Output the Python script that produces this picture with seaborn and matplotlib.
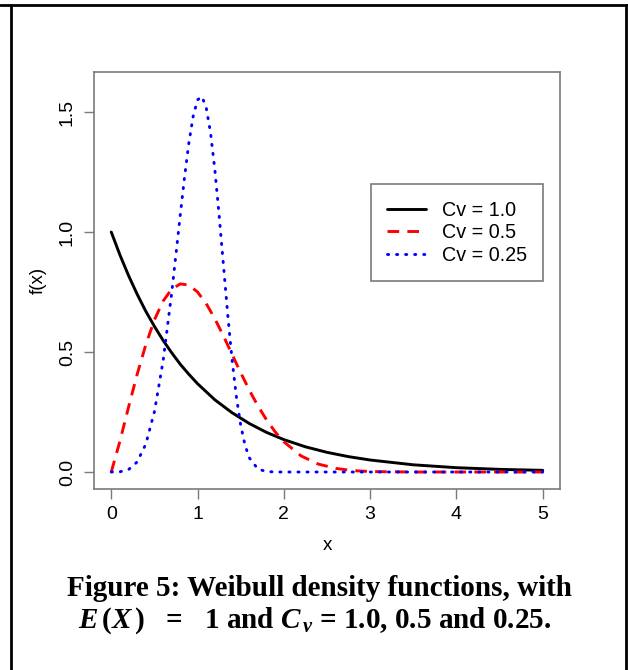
import matplotlib
matplotlib.use("Agg")
import matplotlib.pyplot as plt
import seaborn as sns
import pandas as pd
from matplotlib.lines import Line2D

# ---- data ----
x_cv100 = [0.0, 0.1, 0.2, 0.3, 0.4, 0.5, 0.6, 0.7, 0.8, 0.9, 1.0, 1.2, 1.4, 1.6, 1.8,
           2.0, 2.25, 2.5, 2.75, 3.0, 3.5, 4.0, 4.5, 5.0]
f_cv100 = [1.000, 0.905, 0.819, 0.741, 0.670, 0.607, 0.549, 0.497, 0.449, 0.407, 0.368,
           0.301, 0.247, 0.202, 0.165, 0.135, 0.105, 0.082, 0.064, 0.050, 0.030, 0.018,
           0.011, 0.007]

x_cv050 = [0.0, 0.1, 0.2, 0.3, 0.4, 0.5, 0.6, 0.7, 0.8, 0.9, 1.0, 1.1, 1.2, 1.3, 1.4,
           1.5, 1.6, 1.7, 1.8, 1.9, 2.0, 2.2, 2.4, 2.6, 2.8, 3.0, 3.5, 4.0, 5.0]
f_cv050 = [0.000, 0.128, 0.270, 0.407, 0.530, 0.634, 0.712, 0.762, 0.784, 0.779, 0.750,
           0.702, 0.639, 0.567, 0.490, 0.414, 0.341, 0.275, 0.217, 0.167, 0.126, 0.067,
           0.033, 0.015, 0.006, 0.002, 0.000, 0.000, 0.000]

x_cv025 = [0.0, 0.1, 0.2, 0.3, 0.4, 0.5, 0.6, 0.7, 0.8, 0.85, 0.9, 0.95, 1.0, 1.05,
           1.1, 1.15, 1.2, 1.25, 1.3, 1.35, 1.4, 1.45, 1.5, 1.55, 1.6, 1.7, 1.8, 1.9,
           2.0, 3.0, 4.0, 5.0]
f_cv025 = [0.000, 0.001, 0.010, 0.042, 0.116, 0.251, 0.461, 0.745, 1.072, 1.232, 1.373,
           1.484, 1.551, 1.565, 1.519, 1.415, 1.261, 1.070, 0.862, 0.655, 0.468, 0.313,
           0.195, 0.112, 0.059, 0.012, 0.002, 0.000, 0.000, 0.000, 0.000, 0.000]

series_labels = ["Cv = 1.0", "Cv = 0.5", "Cv = 0.25"]
x_ticks = [0, 1, 2, 3, 4, 5]
y_ticks = [0.0, 0.5, 1.0, 1.5]
y_tick_labels = ["0.0", "0.5", "1.0", "1.5"]
caption_line1 = "Figure 5: Weibull density functions, with"
caption_line2 = r"$E\,(X\,)$   =   1 and $C_{\,v}$ = 1.0, 0.5 and 0.25."

# ---- style ----
sns.set_theme(style="ticks")
plt.rcParams["font.family"] = ["Liberation Sans", "DejaVu Sans"]
plt.rcParams["text.color"] = "black"
plt.rcParams["mathtext.fontset"] = "custom"
plt.rcParams["mathtext.it"] = "Liberation Serif:italic:bold"
plt.rcParams["mathtext.rm"] = "Liberation Serif:bold"
plt.rcParams["mathtext.bf"] = "Liberation Serif:bold"

W, H = 628, 670
fig = plt.figure(figsize=(W / 100, H / 100), dpi=100)
fig.patch.set_facecolor("white")
ax = fig.add_axes([94 / W, 1 - 489 / H, 466 / W, 417 / H])
ax.set_facecolor("white")

frames = [
    (pd.DataFrame({"x": x_cv100, "f": f_cv100}), "black", "-", series_labels[0], "butt"),
    (pd.DataFrame({"x": x_cv050, "f": f_cv050}), "#ff0000", (0, (4, 2.8)), series_labels[1], "butt"),
    (pd.DataFrame({"x": x_cv025, "f": f_cv025}), "#0000ff", (0, (0.4, 2.7)), series_labels[2], "round"),
]
for df, col, ls, lab, cap in frames:
    sns.lineplot(data=df, x="x", y="f", ax=ax, color=col, linestyle=ls, lw=2.1,
                 label=lab, dash_capstyle=cap)

ax.set_xlim(-0.2, 5.2)
ax.set_ylim(-0.0708, 1.667)
ax.set_xticks(x_ticks)
ax.set_xticklabels([str(t) for t in x_ticks])
ax.set_yticks(y_ticks)
ax.set_yticklabels(y_tick_labels, rotation=90, va="center")

spine_col = "#7a7a7a"
for s in ax.spines.values():
    s.set_color(spine_col)
    s.set_linewidth(1.2)
ax.tick_params(direction="out", length=7, width=1, color=spine_col,
               labelsize=14, labelcolor="black")
ax.tick_params(axis="x", pad=5)
ax.tick_params(axis="y", pad=6)

ax.set_xlabel("x", fontsize=13.5, labelpad=10, color="black")
ax.set_ylabel("f(x)", fontsize=13.5, labelpad=9, color="black")

leg = ax.legend(loc="upper left", bbox_to_anchor=(0.594, 0.731), frameon=True,
                fancybox=False, edgecolor=spine_col, framealpha=1, fontsize=14.2,
                handlelength=1.95, handletextpad=0.8, borderpad=0.84,
                labelspacing=0.18, borderaxespad=0)
leg.get_frame().set_linewidth(1.2)
for t in leg.get_texts():
    t.set_color("black")

# ---- caption ----
fig.text(319.5 / W, 1 - 588 / H, caption_line1, ha="center", va="center",
         fontsize=21, fontweight="bold", family="Liberation Serif", color="black")
fig.text(315 / W, 1 - 621 / H, caption_line2, ha="center", va="center",
         fontsize=21, fontweight="bold", family="Liberation Serif", color="black")

# ---- page border lines ----
fig.add_artist(Line2D([0, 1], [1 - 4.5 / H, 1 - 4.5 / H], transform=fig.transFigure,
                      color="black", lw=2))
fig.add_artist(Line2D([11 / W, 11 / W], [0, 1 - 4.5 / H], transform=fig.transFigure,
                      color="black", lw=2))
fig.add_artist(Line2D([626 / W, 626 / W], [0, 1 - 4.5 / H], transform=fig.transFigure,
                      color="black", lw=2))

fig.savefig("out.png", dpi=100)
